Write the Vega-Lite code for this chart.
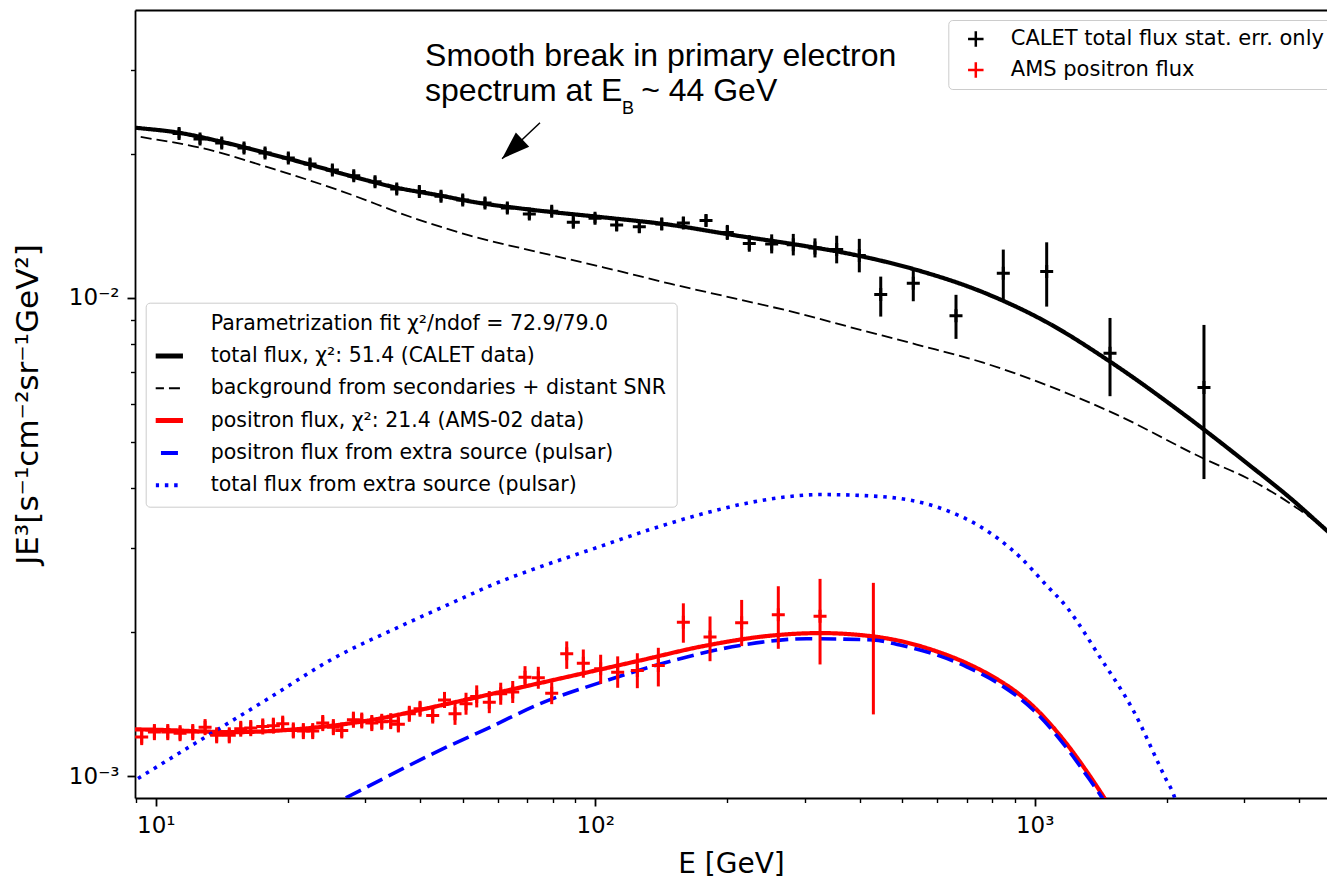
{
  "$schema": "https://vega.github.io/schema/vega-lite/v6.json",
  "width": 1192,
  "height": 788,
  "autosize": {"type": "none"},
  "padding": {"left": 135, "top": 10, "right": 0, "bottom": 81},
  "background": "white",
  "config": {"view": {"stroke": null}, "axis": {"grid": false}},
  "datasets": {
    "curves": [
      {"c":"bg","E":8.51,"F":0.02200},{"c":"bg","E":8.97,"F":0.02181},{"c":"bg","E":12.61,"F":0.02062},{"c":"bg","E":18.52,"F":0.01861},{"c":"bg","E":26.27,"F":0.01676},{"c":"bg","E":39.26,"F":0.01462},{"c":"bg","E":51.90,"F":0.01350},{"c":"bg","E":74.88,"F":0.01244},{"c":"bg","E":104.3,"F":0.01159},{"c":"bg","E":148.0,"F":0.01071},{"c":"bg","E":209.9,"F":0.00995},{"c":"bg","E":292.4,"F":0.00927},{"c":"bg","E":380.0,"F":0.00869},{"c":"bg","E":538.9,"F":0.00799},{"c":"bg","E":764.0,"F":0.00732},{"c":"bg","E":1083.4,"F":0.00653},{"c":"bg","E":1536.8,"F":0.00570},{"c":"bg","E":2428,"F":0.00461},{"c":"bg","E":3089.8,"F":0.00417},{"c":"bg","E":3809,"F":0.00372},{"c":"bg","E":4626,"F":0.003260},{"c":"bg","E":5082,"F":0.003010},
      {"c":"total","E":8.51,"F":0.02282},{"c":"total","E":8.97,"F":0.02270},{"c":"total","E":11.30,"F":0.02215},{"c":"total","E":14.08,"F":0.02122},{"c":"total","E":17.73,"F":0.02013},{"c":"total","E":22.44,"F":0.01900},{"c":"total","E":28.12,"F":0.01793},{"c":"total","E":35.40,"F":0.01700},{"c":"total","E":44.58,"F":0.01636},{"c":"total","E":51.90,"F":0.01592},{"c":"total","E":71.07,"F":0.01530},{"c":"total","E":104.3,"F":0.01474},{"c":"total","E":148.0,"F":0.01422},{"c":"total","E":209.9,"F":0.01350},{"c":"total","E":297.0,"F":0.01286},{"c":"total","E":380.0,"F":0.01236},{"c":"total","E":538.9,"F":0.01144},{"c":"total","E":764.0,"F":0.01027},{"c":"total","E":1083.4,"F":0.00882},{"c":"total","E":1483.6,"F":0.00736},{"c":"total","E":2178.5,"F":0.00572},{"c":"total","E":3089.8,"F":0.00446},{"c":"total","E":3809,"F":0.00382},{"c":"total","E":4626,"F":0.00326},{"c":"total","E":5082,"F":0.003021},
      {"c":"pos","E":8.51,"F":0.001252},{"c":"pos","E":8.97,"F":0.001252},{"c":"pos","E":15.15,"F":0.001236},{"c":"pos","E":21.49,"F":0.001256},{"c":"pos","E":30.46,"F":0.001307},{"c":"pos","E":44.35,"F":0.001405},{"c":"pos","E":62.91,"F":0.001510},{"c":"pos","E":89.16,"F":0.001623},{"c":"pos","E":126.5,"F":0.001745},{"c":"pos","E":179.3,"F":0.001876},{"c":"pos","E":254.2,"F":0.001969},{"c":"pos","E":324.8,"F":0.001991},{"c":"pos","E":429.5,"F":0.001959},{"c":"pos","E":493.8,"F":0.001917},{"c":"pos","E":587.0,"F":0.001834},{"c":"pos","E":700.3,"F":0.001722},{"c":"pos","E":833.9,"F":0.001581},{"c":"pos","E":906.7,"F":0.001501},{"c":"pos","E":992.7,"F":0.001399},{"c":"pos","E":1182.6,"F":0.001168},{"c":"pos","E":1313.3,"F":0.001023},{"c":"pos","E":1445.4,"F":0.000896},{"c":"pos","E":1523,"F":0.000830},
      {"c":"pulsarpos","E":24.19,"F":0.000856},{"c":"pulsarpos","E":26.87,"F":0.000898},{"c":"pulsarpos","E":46.73,"F":0.001159},{"c":"pulsarpos","E":55.65,"F":0.001246},{"c":"pulsarpos","E":74.88,"F":0.001417},{"c":"pulsarpos","E":106.2,"F":0.001585},{"c":"pulsarpos","E":150.6,"F":0.001745},{"c":"pulsarpos","E":213.5,"F":0.001876},{"c":"pulsarpos","E":302.8,"F":0.001938},{"c":"pulsarpos","E":429.5,"F":0.001926},{"c":"pulsarpos","E":493.8,"F":0.001880},{"c":"pulsarpos","E":587.0,"F":0.001803},{"c":"pulsarpos","E":700.3,"F":0.001693},{"c":"pulsarpos","E":833.9,"F":0.001555},{"c":"pulsarpos","E":906.7,"F":0.001475},{"c":"pulsarpos","E":992.7,"F":0.001375},{"c":"pulsarpos","E":1182.6,"F":0.001145},{"c":"pulsarpos","E":1313.3,"F":0.001003},{"c":"pulsarpos","E":1420.5,"F":0.000904},{"c":"pulsarpos","E":1483.6,"F":0.000848},
      {"c":"pulsartot","E":8.74,"F":0.000966},{"c":"pulsartot","E":9.21,"F":0.000995},{"c":"pulsartot","E":12.61,"F":0.001188},{"c":"pulsartot","E":17.89,"F":0.001446},{"c":"pulsartot","E":25.36,"F":0.001762},{"c":"pulsartot","E":35.97,"F":0.002056},{"c":"pulsartot","E":46.73,"F":0.002293},{"c":"pulsartot","E":61.69,"F":0.002565},{"c":"pulsartot","E":71.07,"F":0.002692},{"c":"pulsartot","E":102.5,"F":0.003021},{"c":"pulsartot","E":133.3,"F":0.003279},{"c":"pulsartot","E":173.2,"F":0.003524},{"c":"pulsartot","E":225.0,"F":0.003733},{"c":"pulsartot","E":270.4,"F":0.003834},{"c":"pulsartot","E":324.8,"F":0.003880},{"c":"pulsartot","E":444.6,"F":0.003843},{"c":"pulsartot","E":608.9,"F":0.003636},{"c":"pulsartot","E":750.8,"F":0.003327},{"c":"pulsartot","E":833.9,"F":0.003116},{"c":"pulsartot","E":926.0,"F":0.002872},{"c":"pulsartot","E":1055.6,"F":0.002525},{"c":"pulsartot","E":1182.6,"F":0.002256},{"c":"pulsartot","E":1408,"F":0.001773},{"c":"pulsartot","E":1676.5,"F":0.001372},{"c":"pulsartot","E":1996.7,"F":0.000979},{"c":"pulsartot","E":2067.4,"F":0.000919},{"c":"pulsartot","E":2118.5,"F":0.000856}
    ],
    "pts": [
      {"s":"calet","E":11.30,"F":0.02208,"lo":0.02155,"hi":0.02262},
      {"s":"calet","E":12.61,"F":0.02150,"lo":0.02099,"hi":0.02202},
      {"s":"calet","E":14.13,"F":0.02109,"lo":0.02059,"hi":0.02160},
      {"s":"calet","E":15.88,"F":0.02058,"lo":0.02009,"hi":0.02108},
      {"s":"calet","E":17.73,"F":0.02009,"lo":0.01961,"hi":0.02058},
      {"s":"calet","E":20.03,"F":0.01962,"lo":0.01915,"hi":0.02010},
      {"s":"calet","E":22.44,"F":0.01906,"lo":0.01861,"hi":0.01953},
      {"s":"calet","E":25.23,"F":0.01852,"lo":0.01808,"hi":0.01897},
      {"s":"calet","E":28.22,"F":0.01801,"lo":0.01758,"hi":0.01845},
      {"s":"calet","E":31.55,"F":0.01750,"lo":0.01708,"hi":0.01793},
      {"s":"calet","E":35.35,"F":0.01689,"lo":0.01649,"hi":0.01730},
      {"s":"calet","E":39.79,"F":0.01670,"lo":0.01630,"hi":0.01711},
      {"s":"calet","E":44.58,"F":0.01631,"lo":0.01592,"hi":0.01671},
      {"s":"calet","E":49.95,"F":0.01602,"lo":0.01564,"hi":0.01641},
      {"s":"calet","E":56.13,"F":0.01580,"lo":0.01542,"hi":0.01619},
      {"s":"calet","E":63.10,"F":0.01542,"lo":0.01505,"hi":0.01580},
      {"s":"calet","E":70.81,"F":0.01498,"lo":0.01462,"hi":0.01535},
      {"s":"calet","E":79.62,"F":0.01517,"lo":0.01481,"hi":0.01554},
      {"s":"calet","E":89.16,"F":0.01439,"lo":0.01405,"hi":0.01474},
      {"s":"calet","E":99.9,"F":0.01467,"lo":0.01432,"hi":0.01503},
      {"s":"calet","E":111.9,"F":0.01421,"lo":0.01381,"hi":0.01463},
      {"s":"calet","E":126.0,"F":0.01409,"lo":0.01369,"hi":0.01450},
      {"s":"calet","E":141.7,"F":0.01428,"lo":0.01387,"hi":0.01470},
      {"s":"calet","E":158.7,"F":0.01435,"lo":0.01394,"hi":0.01477},
      {"s":"calet","E":178.7,"F":0.01451,"lo":0.01410,"hi":0.01494},
      {"s":"calet","E":199.8,"F":0.01371,"lo":0.01322,"hi":0.01421},
      {"s":"calet","E":224.2,"F":0.01300,"lo":0.01249,"hi":0.01353},
      {"s":"calet","E":252.1,"F":0.01297,"lo":0.01239,"hi":0.01358},
      {"s":"calet","E":282.3,"F":0.01292,"lo":0.01227,"hi":0.01361},
      {"s":"calet","E":316.3,"F":0.01272,"lo":0.01215,"hi":0.01332},
      {"s":"calet","E":354.4,"F":0.01262,"lo":0.01181,"hi":0.01349},
      {"s":"calet","E":399.0,"F":0.01226,"lo":0.01131,"hi":0.01329},
      {"s":"calet","E":446.4,"F":0.01016,"lo":0.00914,"hi":0.01108},
      {"s":"calet","E":529.4,"F":0.01073,"lo":0.00984,"hi":0.01144},
      {"s":"calet","E":662.2,"F":0.00918,"lo":0.00821,"hi":0.01015},
      {"s":"calet","E":848.4,"F":0.01126,"lo":0.00984,"hi":0.01262},
      {"s":"calet","E":1065,"F":0.01135,"lo":0.00959,"hi":0.01307},
      {"s":"calet","E":1484,"F":0.00766,"lo":0.00623,"hi":0.00908},
      {"s":"calet","E":2428,"F":0.00650,"lo":0.00418,"hi":0.00878},
      {"s":"ams","E":9.29,"F":0.001207,"lo":0.001161,"hi":0.001254},
      {"s":"ams","E":9.93,"F":0.001236,"lo":0.001189,"hi":0.001285},
      {"s":"ams","E":10.65,"F":0.001236,"lo":0.001189,"hi":0.001285},
      {"s":"ams","E":11.36,"F":0.001230,"lo":0.001183,"hi":0.001278},
      {"s":"ams","E":12.14,"F":0.001236,"lo":0.001189,"hi":0.001285},
      {"s":"ams","E":12.95,"F":0.001266,"lo":0.001218,"hi":0.001316},
      {"s":"ams","E":13.76,"F":0.001217,"lo":0.001171,"hi":0.001265},
      {"s":"ams","E":14.70,"F":0.001217,"lo":0.001171,"hi":0.001265},
      {"s":"ams","E":15.61,"F":0.001256,"lo":0.001209,"hi":0.001305},
      {"s":"ams","E":16.45,"F":0.001260,"lo":0.001212,"hi":0.001310},
      {"s":"ams","E":17.52,"F":0.001270,"lo":0.001222,"hi":0.001320},
      {"s":"ams","E":18.52,"F":0.001275,"lo":0.001227,"hi":0.001325},
      {"s":"ams","E":19.45,"F":0.001287,"lo":0.001238,"hi":0.001338},
      {"s":"ams","E":20.56,"F":0.001246,"lo":0.001199,"hi":0.001295},
      {"s":"ams","E":21.67,"F":0.001242,"lo":0.001195,"hi":0.001291},
      {"s":"ams","E":22.76,"F":0.001242,"lo":0.001195,"hi":0.001291},
      {"s":"ams","E":23.99,"F":0.001291,"lo":0.001242,"hi":0.001342},
      {"s":"ams","E":25.36,"F":0.001266,"lo":0.001218,"hi":0.001316},
      {"s":"ams","E":26.50,"F":0.001246,"lo":0.001199,"hi":0.001295},
      {"s":"ams","E":28.17,"F":0.001312,"lo":0.001262,"hi":0.001364},
      {"s":"ams","E":29.43,"F":0.001307,"lo":0.001258,"hi":0.001358},
      {"s":"ams","E":31.02,"F":0.001291,"lo":0.001242,"hi":0.001342},
      {"s":"ams","E":32.68,"F":0.001299,"lo":0.001250,"hi":0.001350},
      {"s":"ams","E":34.25,"F":0.001303,"lo":0.001254,"hi":0.001354},
      {"s":"ams","E":35.65,"F":0.001283,"lo":0.001234,"hi":0.001333},
      {"s":"ams","E":37.76,"F":0.001350,"lo":0.001299,"hi":0.001403},
      {"s":"ams","E":39.94,"F":0.001383,"lo":0.001331,"hi":0.001437},
      {"s":"ams","E":42.68,"F":0.001339,"lo":0.001288,"hi":0.001392},
      {"s":"ams","E":45.40,"F":0.001443,"lo":0.001388,"hi":0.001500},
      {"s":"ams","E":47.97,"F":0.001350,"lo":0.001280,"hi":0.001423},
      {"s":"ams","E":50.82,"F":0.001417,"lo":0.001344,"hi":0.001494},
      {"s":"ams","E":53.75,"F":0.001468,"lo":0.001392,"hi":0.001548},
      {"s":"ams","E":57.41,"F":0.001428,"lo":0.001354,"hi":0.001506},
      {"s":"ams","E":60.95,"F":0.001487,"lo":0.001410,"hi":0.001568},
      {"s":"ams","E":64.91,"F":0.001499,"lo":0.001422,"hi":0.001581},
      {"s":"ams","E":69.23,"F":0.001610,"lo":0.001527,"hi":0.001698},
      {"s":"ams","E":74.22,"F":0.001606,"lo":0.001523,"hi":0.001693},
      {"s":"ams","E":79.62,"F":0.001491,"lo":0.001414,"hi":0.001572},
      {"s":"ams","E":86.14,"F":0.001803,"lo":0.001676,"hi":0.001913},
      {"s":"ams","E":93.96,"F":0.001722,"lo":0.001606,"hi":0.001840},
      {"s":"ams","E":102.9,"F":0.001676,"lo":0.001560,"hi":0.001794},
      {"s":"ams","E":112.5,"F":0.001649,"lo":0.001530,"hi":0.001780},
      {"s":"ams","E":124.7,"F":0.001662,"lo":0.001527,"hi":0.001807},
      {"s":"ams","E":139.2,"F":0.001703,"lo":0.001540,"hi":0.001855},
      {"s":"ams","E":158.7,"F":0.002099,"lo":0.001901,"hi":0.002298},
      {"s":"ams","E":182.5,"F":0.001953,"lo":0.001739,"hi":0.002157},
      {"s":"ams","E":215.4,"F":0.002092,"lo":0.001870,"hi":0.002336},
      {"s":"ams","E":261.0,"F":0.002175,"lo":0.001846,"hi":0.002495},
      {"s":"ams","E":324.8,"F":0.002160,"lo":0.001712,"hi":0.002585},
      {"s":"ams","E":429.5,"F":0.001959,"lo":0.001346,"hi":0.002536}
    ],
    "notes": [
      {"E":41.0,"F":0.03058,"t":"Smooth break in primary electron"},
      {"E":41.0,"F":0.02585,"t":"spectrum at E"},
      {"E":127.2,"F":0.02585,"t":"~ 44 GeV"}
    ],
    "sub": [
      {"E":115.0,"F":0.02427,"t":"B"}
    ],
    "arrow": [
      {"E":74.88,"F":0.02325,"E2":61.38,"F2":0.01955}
    ]
  },
  "layer": [
    {
      "data": {"name": "curves"},
      "mark": {"type": "line", "clip": true, "strokeCap": "butt", "opacity": 1, "interpolate": "monotone"},
      "encoding": {
        "x": {"field": "E", "type": "quantitative", "scale": {"type": "log", "domain": [8.97, 4626], "nice": false},
          "axis": {"orient": "bottom", "values": [10, 100, 1000], "labelExpr": "datum.value < 50 ? '10¹' : (datum.value < 500 ? '10²' : '10³')", "tickSize": 8, "tickWidth": 1.8, "tickColor": "black", "domainColor": "black", "domainWidth": 1.8, "labelFont": "DejaVu Sans", "labelFontSize": 23, "labelColor": "black", "labelPadding": 8, "labelFlush": false, "labelOverlap": false, "title": "E [GeV]", "titleFont": "DejaVu Sans", "titleFontSize": 28, "titleFontWeight": "normal", "titleColor": "black", "titlePadding": 13, "grid": false}},
        "y": {"field": "F", "type": "quantitative", "scale": {"type": "log", "domain": [0.0009, 0.04], "nice": false},
          "axis": {"orient": "left", "values": [0.001, 0.01], "labelExpr": "datum.value < 0.005 ? '10⁻³' : '10⁻²'", "tickSize": 8, "tickWidth": 1.8, "tickColor": "black", "domainColor": "black", "domainWidth": 1.8, "labelFont": "DejaVu Sans", "labelFontSize": 23, "labelColor": "black", "labelPadding": 8, "labelFlush": false, "labelOverlap": false, "title": "JE³[s⁻¹cm⁻²sr⁻¹GeV²]", "titleFont": "DejaVu Sans", "titleFontSize": 31, "titleFontWeight": "normal", "titleColor": "black", "titlePadding": 24, "grid": false}},
        "stroke": {"field": "c", "type": "nominal",
          "scale": {"domain": ["fit", "total", "bg", "pos", "pulsarpos", "pulsartot"], "range": ["white", "black", "black", "red", "blue", "blue"]},
          "legend": {"title": null, "orient": "none", "legendX": 10.7, "legendY": 292.7, "fillColor": "rgba(255,255,255,0.8)", "strokeColor": "#cccccc", "cornerRadius": 4, "padding": 10, "symbolType": "stroke", "symbolSize": 2116, "symbolOffset": -6, "labelOffset": 40.5, "rowPadding": 10.3, "clipHeight": 22, "labelFont": "DejaVu Sans", "labelFontSize": 20.5, "labelColor": "black", "labelLimit": 1000,
            "symbolStrokeWidth": {"expr": "datum.value === 'fit' ? 0 : (datum.value === 'bg' ? 2 : (datum.value === 'total' || datum.value === 'pos' ? 5 : 4))"},
            "labelExpr": "datum.value === 'fit' ? 'Parametrization fit χ²/ndof = 72.9/79.0' : (datum.value === 'total' ? 'total flux, χ²: 51.4 (CALET data)' : (datum.value === 'bg' ? 'background from secondaries + distant SNR' : (datum.value === 'pos' ? 'positron flux, χ²: 21.4 (AMS-02 data)' : (datum.value === 'pulsarpos' ? 'positron flux from extra source (pulsar)' : 'total flux from extra source (pulsar)'))))"}},
        "strokeDash": {"field": "c", "type": "nominal",
          "scale": {"domain": ["fit", "total", "bg", "pos", "pulsarpos", "pulsartot"], "range": [[1, 0], [1, 0], [11, 5], [1, 0], [17, 7], [3.5, 5.8]]},
          "legend": {"title": null, "orient": "none", "legendX": 10.7, "legendY": 292.7, "fillColor": "rgba(255,255,255,0.8)", "strokeColor": "#cccccc", "cornerRadius": 4, "padding": 10, "symbolType": "stroke", "symbolSize": 2116, "symbolOffset": -6, "labelOffset": 40.5, "rowPadding": 10.3, "clipHeight": 22, "labelFont": "DejaVu Sans", "labelFontSize": 20.5, "labelColor": "black", "labelLimit": 1000,
            "symbolStrokeWidth": {"expr": "datum.value === 'fit' ? 0 : (datum.value === 'bg' ? 2 : (datum.value === 'total' || datum.value === 'pos' ? 5 : 4))"},
            "labelExpr": "datum.value === 'fit' ? 'Parametrization fit χ²/ndof = 72.9/79.0' : (datum.value === 'total' ? 'total flux, χ²: 51.4 (CALET data)' : (datum.value === 'bg' ? 'background from secondaries + distant SNR' : (datum.value === 'pos' ? 'positron flux, χ²: 21.4 (AMS-02 data)' : (datum.value === 'pulsarpos' ? 'positron flux from extra source (pulsar)' : 'total flux from extra source (pulsar)'))))"}},
        "strokeWidth": {"condition": [{"test": "datum.c === 'total' || datum.c === 'pos'", "value": 4.2}, {"test": "datum.c === 'bg'", "value": 1.8}], "value": 3.6}
      }
    },
    {
      "data": {"name": "pts"},
      "mark": {"type": "rule", "strokeWidth": 3, "clip": true},
      "encoding": {
        "x": {"field": "E", "type": "quantitative", "scale": {"type": "log", "domain": [8.97, 4626], "nice": false},
          "axis": {"orient": "bottom", "values": [9, 20, 30, 40, 50, 60, 70, 80, 90, 200, 300, 400, 500, 600, 700, 800, 900, 2000, 3000, 4000], "labels": false, "tickSize": 4.5, "tickWidth": 1.4, "tickColor": "black", "domain": false, "title": null, "grid": false}},
        "y": {"field": "lo", "type": "quantitative", "scale": {"type": "log", "domain": [0.0009, 0.04], "nice": false},
          "axis": {"orient": "left", "values": [0.002, 0.003, 0.004, 0.005, 0.006, 0.007, 0.008, 0.009, 0.02, 0.03], "labels": false, "tickSize": 4.5, "tickWidth": 1.4, "tickColor": "black", "domain": false, "title": null, "grid": false}},
        "y2": {"field": "hi"},
        "color": {"condition": {"test": "datum.s === 'ams'", "value": "red"}, "value": "black"}
      }
    },
    {
      "data": {"name": "pts"},
      "mark": {"type": "point", "shape": "M-1,0L1,0M0,-1L0,1", "filled": false, "size": 169, "strokeWidth": 3, "opacity": 1, "clip": true},
      "encoding": {
        "x": {"field": "E", "type": "quantitative", "scale": {"type": "log", "domain": [8.97, 4626], "nice": false},
          "axis": {"orient": "top", "labels": false, "ticks": false, "domain": true, "domainColor": "black", "domainWidth": 1.8, "title": null, "grid": false}},
        "y": {"field": "F", "type": "quantitative", "scale": {"type": "log", "domain": [0.0009, 0.04], "nice": false}, "axis": null},
        "color": {"field": "s", "type": "nominal",
          "scale": {"domain": ["calet", "ams"], "range": ["black", "red"]},
          "legend": {"title": null, "orient": "none", "legendX": 813.3, "legendY": 10, "fillColor": "rgba(255,255,255,0.8)", "strokeColor": "#cccccc", "cornerRadius": 4, "padding": 9, "symbolType": "M-1,0L1,0M0,-1L0,1", "symbolSize": 240, "symbolStrokeWidth": 2.5, "symbolOffset": 8, "labelOffset": 24.5, "rowPadding": 10, "clipHeight": 20, "labelFont": "DejaVu Sans", "labelFontSize": 21, "labelColor": "black", "labelLimit": 1000,
            "labelExpr": "datum.value === 'calet' ? 'CALET total flux stat. err. only' : 'AMS positron flux'"}}
      }
    },
    {
      "data": {"name": "arrow"},
      "mark": {"type": "rule", "color": "black", "strokeWidth": 1.5},
      "encoding": {
        "x": {"field": "E", "type": "quantitative", "scale": {"type": "log", "domain": [8.97, 4626], "nice": false}, "axis": null},
        "y": {"field": "F", "type": "quantitative", "scale": {"type": "log", "domain": [0.0009, 0.04], "nice": false}, "axis": null},
        "x2": {"field": "E2"},
        "y2": {"field": "F2"}
      }
    },
    {
      "data": {"name": "arrow"},
      "mark": {"type": "point", "shape": "M0,0L-0.7,2L0.7,2Z", "filled": true, "color": "black", "opacity": 1, "size": 784, "angle": 227},
      "encoding": {
        "x": {"field": "E2", "type": "quantitative", "scale": {"type": "log", "domain": [8.97, 4626], "nice": false}, "axis": null},
        "y": {"field": "F2", "type": "quantitative", "scale": {"type": "log", "domain": [0.0009, 0.04], "nice": false}, "axis": null}
      }
    },
    {
      "data": {"name": "notes"},
      "mark": {"type": "text", "align": "left", "baseline": "alphabetic", "font": "Liberation Sans", "fontSize": 32, "color": "black"},
      "encoding": {
        "x": {"field": "E", "type": "quantitative", "scale": {"type": "log", "domain": [8.97, 4626], "nice": false}, "axis": null},
        "y": {"field": "F", "type": "quantitative", "scale": {"type": "log", "domain": [0.0009, 0.04], "nice": false}, "axis": null},
        "text": {"field": "t"}
      }
    },
    {
      "data": {"name": "sub"},
      "mark": {"type": "text", "align": "left", "baseline": "alphabetic", "font": "Liberation Sans", "fontSize": 18, "color": "black"},
      "encoding": {
        "x": {"field": "E", "type": "quantitative", "scale": {"type": "log", "domain": [8.97, 4626], "nice": false}, "axis": null},
        "y": {"field": "F", "type": "quantitative", "scale": {"type": "log", "domain": [0.0009, 0.04], "nice": false}, "axis": null},
        "text": {"field": "t"}
      }
    }
  ],
  "resolve": {"axis": {"x": "independent", "y": "independent"}}
}
